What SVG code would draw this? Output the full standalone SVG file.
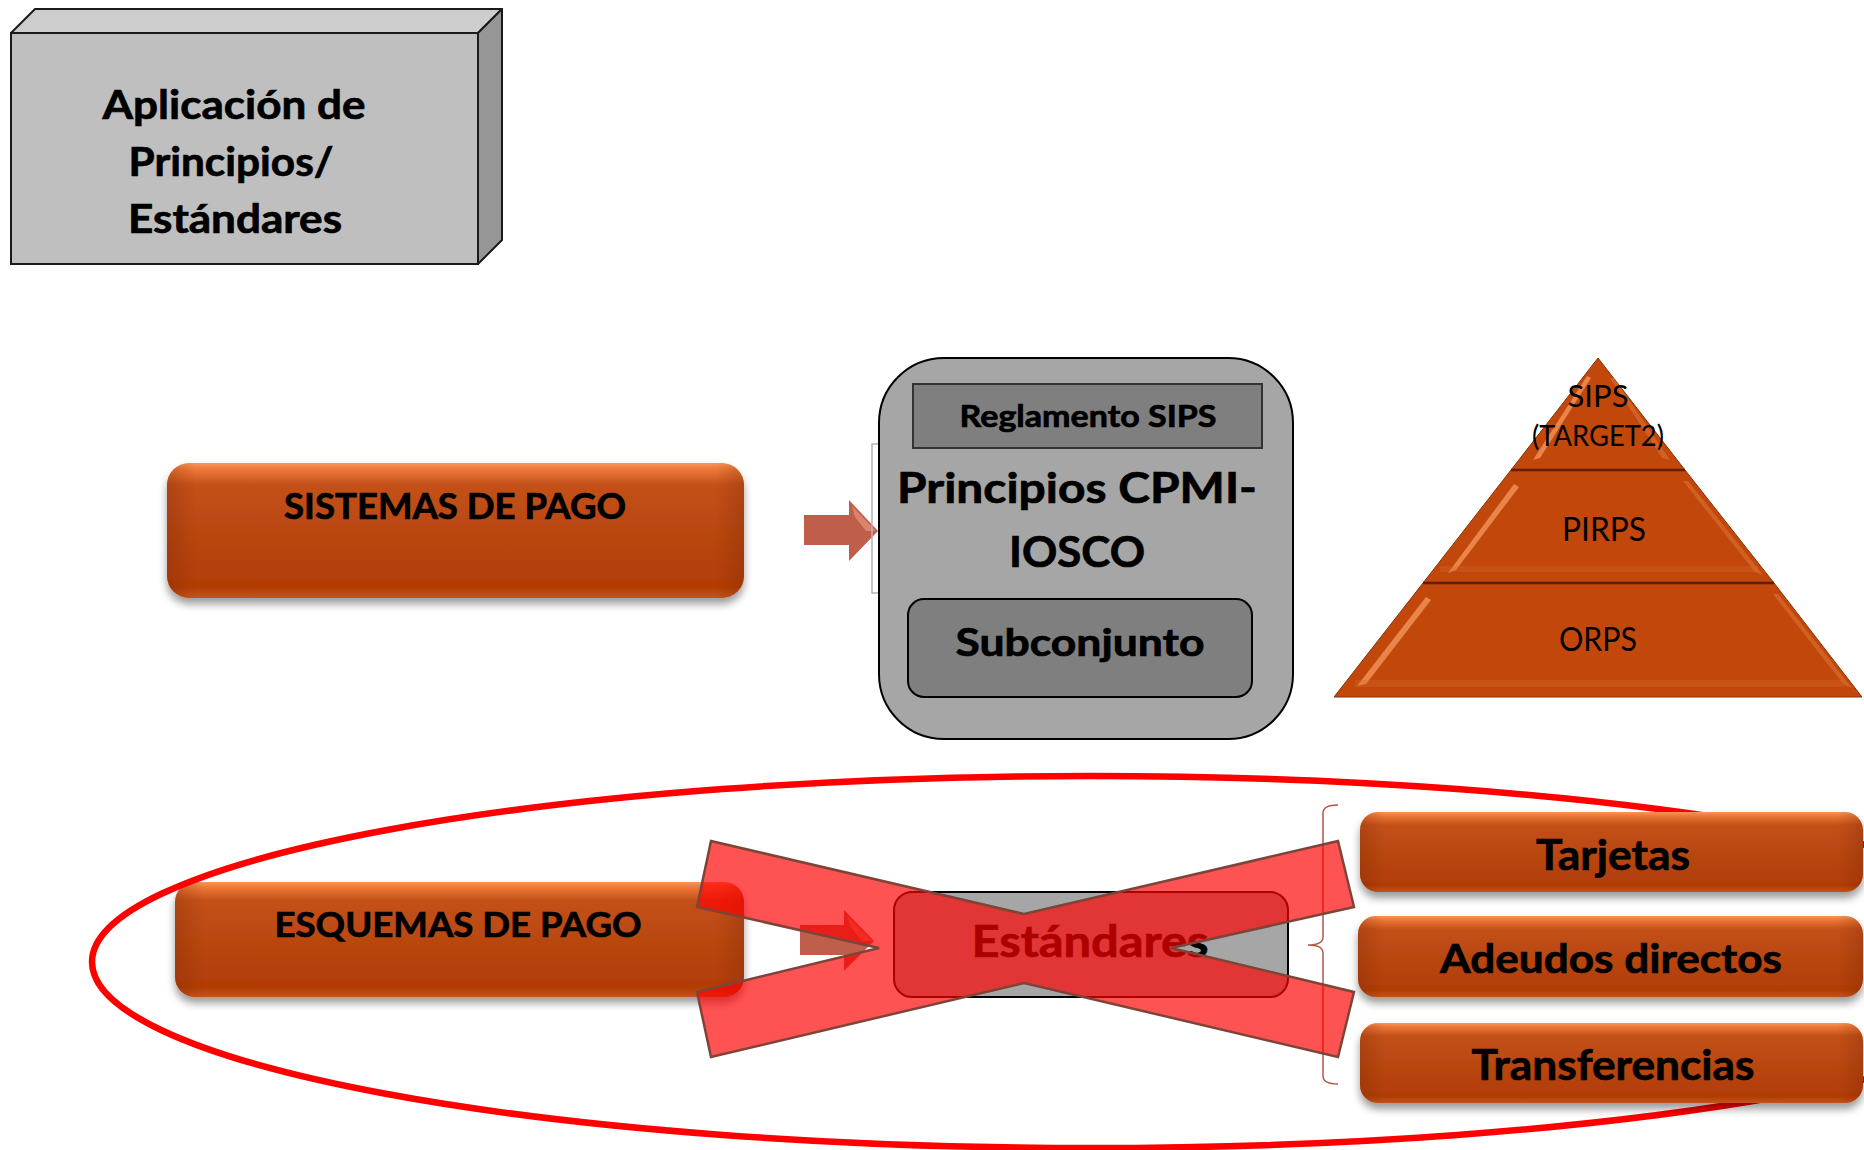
<svg xmlns="http://www.w3.org/2000/svg" width="1864" height="1150" viewBox="0 0 1864 1150">
<style>
.b{font-family:Lato,'Liberation Sans',sans-serif;font-weight:bold;fill:#000;stroke:#000;stroke-width:0.7;text-anchor:middle}
.r{font-family:Lato,'Liberation Sans',sans-serif;font-weight:normal;fill:#000;text-anchor:middle}
.ob{fill:url(#og)}
.oe{fill:url(#oedge)}
.arr{fill:#bf5f4b}
.hl{fill:#f59a62;opacity:.75}
.hr{fill:#e07a40;opacity:.5}
</style>
<defs>
<linearGradient id="og" x1="0" y1="0" x2="0" y2="1">
<stop offset="0" stop-color="#fb965a"/>
<stop offset="0.05" stop-color="#ec7636"/>
<stop offset="0.16" stop-color="#c4511a"/>
<stop offset="0.55" stop-color="#b8460f"/>
<stop offset="0.92" stop-color="#b23d05"/>
<stop offset="1" stop-color="#c4541a"/>
</linearGradient>
<linearGradient id="oedge" x1="0" y1="0" x2="1" y2="0">
<stop offset="0" stop-color="#7a2800" stop-opacity="0.3"/>
<stop offset="0.05" stop-color="#7a2800" stop-opacity="0"/>
<stop offset="0.95" stop-color="#7a2800" stop-opacity="0"/>
<stop offset="1" stop-color="#7a2800" stop-opacity="0.3"/>
</linearGradient>
<filter id="sh" x="-5%" y="-20%" width="110%" height="160%">
<feGaussianBlur in="SourceAlpha" stdDeviation="4"/>
<feOffset dy="6" result="o"/>
<feComponentTransfer><feFuncA type="linear" slope="0.4"/></feComponentTransfer>
<feMerge><feMergeNode/><feMergeNode in="SourceGraphic"/></feMerge>
</filter>
</defs>

<g id="aplicacion">
<polygon points="11,33 35,9 502,9 478,33" fill="#cdcdcd" stroke="#1a1a1a" stroke-width="2" stroke-linejoin="round"/>
<polygon points="478,33 502,9 502,240 478,264" fill="#969696" stroke="#1a1a1a" stroke-width="2" stroke-linejoin="round"/>
<rect x="11" y="33" width="467" height="231" fill="#bfbfbf" stroke="#1a1a1a" stroke-width="2"/>
<text class="b" x="234" y="119" font-size="40" textLength="263" lengthAdjust="spacingAndGlyphs">Aplicación de</text>
<text class="b" x="231" y="176" font-size="40" textLength="205" lengthAdjust="spacingAndGlyphs">Principios/</text>
<text class="b" x="235" y="233" font-size="40" textLength="214" lengthAdjust="spacingAndGlyphs">Estándares</text>
</g>

<g id="sistemas">
<g filter="url(#sh)"><rect class="ob" x="167" y="463" width="577" height="135" rx="22"/></g>
<rect class="oe" x="167" y="463" width="577" height="135" rx="22"/>
<text class="b" x="455" y="519" font-size="36" textLength="342" lengthAdjust="spacingAndGlyphs">SISTEMAS DE PAGO</text>
</g>

<g id="connectors">
<g id="arrow1">
<polygon class="arr" points="804,515 849,515 849,500 878,531 849,561 849,545 804,545"/>
<polygon points="852,506 876,531 866,531 855,517" fill="#e8937f" opacity="0.7"/>
</g>
<path id="bracket1" d="M879,444 H872 V593 H879" fill="none" stroke="#b3b3b3" stroke-width="1.5"/>
<g id="arrow2">
<polygon class="arr" points="800,925 844,925 844,910 874,941 844,971 844,955 800,955"/>
<polygon points="847,916 872,941 862,941 851,927" fill="#e8937f" opacity="0.7"/>
</g>
<path id="brace" d="M1338,805 Q1323,805 1323,813 L1323,937 Q1323,945 1308,945 Q1323,945 1323,953 L1323,1076 Q1323,1084 1338,1084" fill="none" stroke="#b5574a" stroke-width="1.5"/>
</g>

<g id="cpmi">
<rect x="879" y="358" width="414" height="381" rx="65" fill="#a6a6a6" stroke="#000" stroke-width="2"/>
<g id="reglamento">
<rect x="913" y="384" width="349" height="64" fill="#7f7f7f" stroke="#333" stroke-width="2"/>
<text class="b" x="1088" y="427" font-size="30" textLength="257" lengthAdjust="spacingAndGlyphs">Reglamento SIPS</text>
</g>
<text class="b" x="1077" y="503" font-size="42" textLength="360" lengthAdjust="spacingAndGlyphs">Principios CPMI-</text>
<text class="b" x="1077" y="567" font-size="42" textLength="136" lengthAdjust="spacingAndGlyphs">IOSCO</text>
<g id="subconjunto">
<rect x="908" y="599" width="344" height="98" rx="16" fill="#7f7f7f" stroke="#000" stroke-width="2"/>
<text class="b" x="1080" y="656" font-size="38" textLength="249" lengthAdjust="spacingAndGlyphs">Subconjunto</text>
</g>
</g>

<g id="piramide">
<g id="tier-sips">
<polygon points="1598,358 1685,470 1511,470" fill="#c2470b" stroke="#8a3206" stroke-width="1"/>
<polygon class="hl" points="1587,376 1591,378 1540,458 1533,460"/>
<polygon class="hr" points="1610,378 1614,378 1670,460 1662,458"/>
<text class="r" x="1598" y="407" font-size="31" textLength="61" lengthAdjust="spacingAndGlyphs">SIPS</text>
<text class="r" x="1598" y="446" font-size="29" textLength="132" lengthAdjust="spacingAndGlyphs">(TARGET2)</text>
</g>
<g id="tier-pirps">
<polygon points="1511,470 1685,470 1774,583 1423,583" fill="#c2470b" stroke="#8a3206" stroke-width="1"/>
<polygon class="hl" points="1514,484 1519,487 1456,570 1448,573"/>
<polygon class="hr" points="1683,481 1688,481 1763,575 1755,572"/>
<rect x="1440" y="566" width="318" height="6" fill="#d86a30" opacity="0.3"/>
<text class="r" x="1604" y="541" font-size="32" textLength="84" lengthAdjust="spacingAndGlyphs">PIRPS</text>
</g>
<g id="tier-orps">
<polygon points="1423,583 1774,583 1862,697 1334,697" fill="#c2470b" stroke="#8a3206" stroke-width="1"/>
<polygon class="hl" points="1426,597 1431,600 1366,684 1357,686"/>
<polygon class="hr" points="1773,594 1778,594 1852,688 1844,685"/>
<rect x="1355" y="680" width="489" height="7" fill="#d86a30" opacity="0.3"/>
<text class="r" x="1598" y="651" font-size="32" textLength="78" lengthAdjust="spacingAndGlyphs">ORPS</text>
</g>
<line x1="1511" y1="470" x2="1685" y2="470" stroke="#5e2000" stroke-width="2.5"/>
<line x1="1423" y1="583" x2="1774" y2="583" stroke="#5e2000" stroke-width="2.5"/>
</g>

<g id="esquemas">
<g filter="url(#sh)"><rect class="ob" x="175" y="882" width="569" height="115" rx="20"/></g>
<rect class="oe" x="175" y="882" width="569" height="115" rx="20"/>
<text class="b" x="458" y="937" font-size="35" textLength="367" lengthAdjust="spacingAndGlyphs">ESQUEMAS DE PAGO</text>
</g>

<ellipse id="circulo" cx="1090" cy="962" rx="998" ry="186" fill="none" stroke="#ff0000" stroke-width="6.5"/>

<g id="tarjetas">
<g filter="url(#sh)"><rect class="ob" x="1360" y="812" width="503" height="80" rx="18"/></g>
<rect class="oe" x="1360" y="812" width="503" height="80" rx="18"/>
<text class="b" x="1613" y="870" font-size="42" textLength="154" lengthAdjust="spacingAndGlyphs">Tarjetas</text>
</g>
<g id="adeudos">
<g filter="url(#sh)"><rect class="ob" x="1358" y="916" width="505" height="81" rx="18"/></g>
<rect class="oe" x="1358" y="916" width="505" height="81" rx="18"/>
<text class="b" x="1611" y="973" font-size="41" textLength="342" lengthAdjust="spacingAndGlyphs">Adeudos directos</text>
</g>
<g id="transferencias">
<g filter="url(#sh)"><rect class="ob" x="1360" y="1023" width="503" height="80" rx="18"/></g>
<rect class="oe" x="1360" y="1023" width="503" height="80" rx="18"/>
<text class="b" x="1613" y="1080" font-size="42" textLength="283" lengthAdjust="spacingAndGlyphs">Transferencias</text>
</g>

<g id="estandares">
<rect x="894" y="892" width="394" height="105" rx="18" fill="#a6a6a6" stroke="#000" stroke-width="2"/>
<text class="b" x="1090" y="957" font-size="43" textLength="237" lengthAdjust="spacingAndGlyphs">Estándares</text>
</g>

<polygon id="tachado" points="711,841 1024,914 1338,841 1354,907 1171,948 1354,992 1338,1057 1024,983 711,1057 697,992 879,948 697,907" fill="#ff0000" fill-opacity="0.68" stroke="#7d4437" stroke-width="2.5" stroke-linejoin="miter"/>
</svg>
